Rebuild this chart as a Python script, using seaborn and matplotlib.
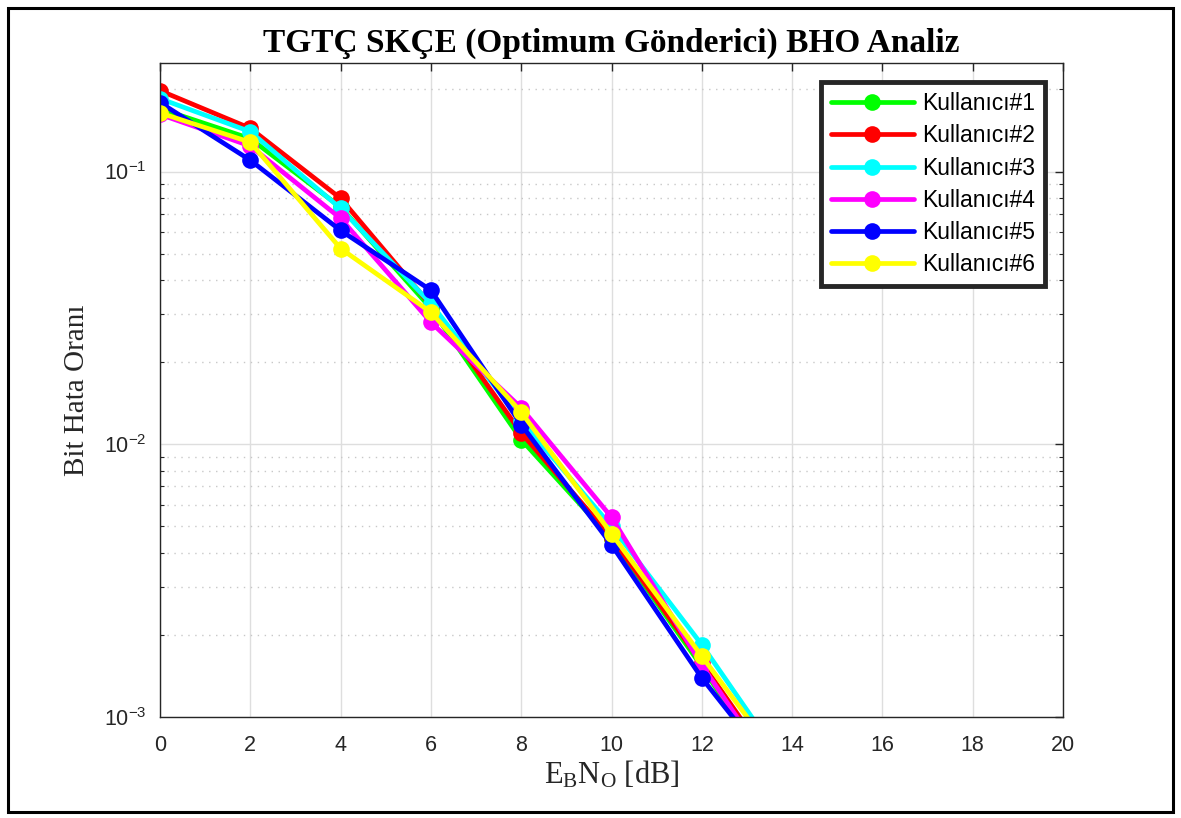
import matplotlib
matplotlib.use("Agg")
import matplotlib.pyplot as plt
import matplotlib.patches as mpatches
from matplotlib.ticker import LogLocator, NullFormatter, MultipleLocator
import numpy as np
import pandas as pd
import seaborn as sns

# Eb/No values (dB) and BER per user
ebno = [0, 2, 4, 6, 8, 10, 12, 14]
users = ['Kullanıcı#1', 'Kullanıcı#2', 'Kullanıcı#3',
         'Kullanıcı#4', 'Kullanıcı#5', 'Kullanıcı#6']
ber_1 = [0.170, 0.132, 0.0740, 0.0315, 0.0104, 0.00450, 0.00153, 0.00048]
ber_2 = [0.198, 0.144, 0.0797, 0.0323, 0.0110, 0.00455, 0.00158, 0.00053]
ber_3 = [0.185, 0.140, 0.0732, 0.0328, 0.0122, 0.00500, 0.00184, 0.00061]
ber_4 = [0.162, 0.124, 0.0673, 0.0280, 0.0136, 0.00540, 0.00155, 0.00050]
ber_5 = [0.179, 0.110, 0.0608, 0.0367, 0.0118, 0.00428, 0.00139, 0.00053]
ber_6 = [0.164, 0.128, 0.0522, 0.0305, 0.0131, 0.00470, 0.00167, 0.00060]
colors = ['#00ff00', '#ff0000', '#00ffff', '#ff00ff', '#0000ff', '#ffff00']

all_ber = [ber_1, ber_2, ber_3, ber_4, ber_5, ber_6]
rows = []
for u, vals in zip(users, all_ber):
    for x, v in zip(ebno, vals):
        rows.append({'EbNo': x, 'BER': v, 'user': u})
df = pd.DataFrame(rows)

sns.set_style('white')
plt.rcParams['font.family'] = ['Liberation Sans', 'DejaVu Sans']
plt.rcParams['axes.unicode_minus'] = False
plt.rcParams['mathtext.fontset'] = 'custom'
plt.rcParams['mathtext.rm'] = 'Liberation Serif'
plt.rcParams['mathtext.it'] = 'Liberation Serif:italic'

fig = plt.figure(figsize=(11.81, 8.18), dpi=100)
ax = fig.add_axes([0.1355, 0.1235, 0.7646, 0.7995])

sns.lineplot(data=df, x='EbNo', y='BER', hue='user', hue_order=users,
             palette=dict(zip(users, colors)), marker='o', markersize=12,
             markeredgewidth=0, linewidth=3.4, ax=ax, sort=False)

ax.set_yscale('log')
ax.set_xlim(0, 20)
ax.set_ylim(1e-3, 0.25)
ax.xaxis.set_major_locator(MultipleLocator(2))
ax.yaxis.set_major_locator(LogLocator(base=10, numticks=10))
ax.yaxis.set_minor_locator(LogLocator(base=10, subs=np.arange(2, 10), numticks=20))
ax.yaxis.set_minor_formatter(NullFormatter())

ax.grid(True, which='major', axis='both', color='#dedede', linewidth=1.0, linestyle='-')
ax.grid(True, which='minor', axis='y', color='#c8c8c8', linewidth=1.0, linestyle=(0, (1, 4)))
ax.set_axisbelow(True)

ax.tick_params(axis='both', which='major', direction='in', length=6, width=1,
               labelsize=15.5, color='#262626', labelcolor='#262626',
               top=True, right=True)
ax.tick_params(axis='x', which='major', pad=13)
ax.tick_params(axis='y', which='major', pad=10)
ax.tick_params(axis='y', which='minor', direction='in', length=3, width=0.8,
               color='#262626', right=True, left=True)
for s in ax.spines.values():
    s.set_color('#262626')
    s.set_linewidth(1.0)

ax.set_title('TGTÇ SKÇE (Optimum Gönderici) BHO Analiz',
             fontfamily='Liberation Serif', fontweight='bold', fontsize=24,
             color='black', pad=8)
ax.set_ylabel('Bit Hata Oranı', fontfamily='Liberation Serif', fontsize=21,
              color='#262626', labelpad=10)
ax.set_xlabel(r'$\mathrm{E_B N_O}$ [dB]', fontfamily='Liberation Serif',
              fontsize=22, color='#262626', labelpad=2)

leg = ax.legend(loc='upper right', bbox_to_anchor=(0.980, 0.971), borderaxespad=0,
                fontsize=16.5, frameon=True, fancybox=False, handlelength=3.6,
                borderpad=0.45, labelspacing=0.4, handletextpad=0.35)
leg.get_frame().set_edgecolor('#262626')
leg.get_frame().set_linewidth(3.5)
leg.get_frame().set_facecolor('white')
leg.get_frame().set_alpha(1)
for t in leg.get_texts():
    t.set_color('black')

# outer black frame of the figure
fig.patches.append(mpatches.Rectangle((8 / 1181, 6 / 818), 1 - 16 / 1181, 1 - 14 / 818,
                                      transform=fig.transFigure, fill=False,
                                      edgecolor='black', linewidth=2.2))

fig.savefig('out.png', dpi=100)
